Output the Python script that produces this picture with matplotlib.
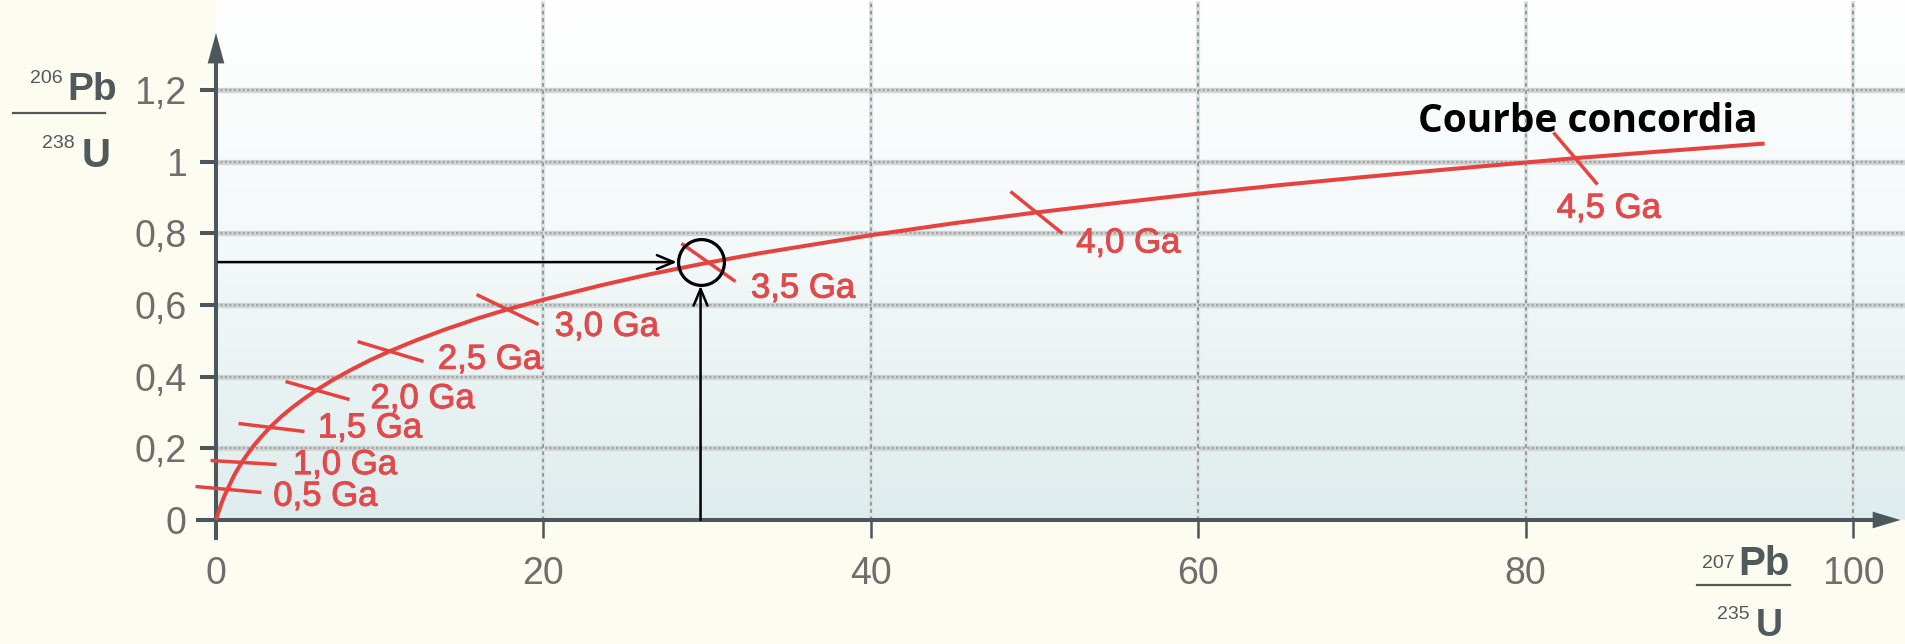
import matplotlib
matplotlib.use("Agg")
import matplotlib.pyplot as plt
import matplotlib.patheffects as pe
import numpy as np
from matplotlib.markers import MarkerStyle
from matplotlib.transforms import Affine2D
from matplotlib.lines import Line2D
from matplotlib.colors import LinearSegmentedColormap

plt.rcParams['font.family'] = ['Liberation Sans', 'DejaVu Sans']

# courbe concordia (207Pb/235U, 206Pb/238U)
courbe_x = [0, 0.15, 0.3, 0.5, 0.75, 1.1, 1.3, 1.65, 2.0, 2.4, 2.8, 3.35, 4.0, 4.6, 5.3,
            6.15, 7.1, 8.2, 9.4, 10.65, 12.3, 14, 16, 17.8, 20, 23.5, 26.5, 30, 33, 35,
            40, 45, 50, 55, 60, 65, 70, 75, 80, 83, 88, 90, 94.6]
courbe_y = [0, 0.022, 0.042, 0.066, 0.09, 0.124, 0.14, 0.166, 0.189, 0.213, 0.234, 0.261,
            0.289, 0.312, 0.336, 0.363, 0.39, 0.418, 0.446, 0.472, 0.503, 0.532, 0.563,
            0.588, 0.615, 0.655, 0.686, 0.718, 0.743, 0.758, 0.795, 0.828, 0.858, 0.885,
            0.911, 0.935, 0.957, 0.978, 0.998, 1.01, 1.028, 1.035, 1.051]

# graduations en age
ages = ['0,5 Ga', '1,0 Ga', '1,5 Ga', '2,0 Ga', '2,5 Ga', '3,0 Ga', '3,5 Ga', '4,0 Ga', '4,5 Ga']
age_x = [0.75, 1.64, 3.35, 6.2, 10.62, 17.76, 30.05, 50.1, 83.0]
age_y = [0.086, 0.163, 0.26, 0.364, 0.471, 0.588, 0.72, 0.86, 1.01]

# point lu
point_x = 29.6
point_y = 0.72

yticks = [0, 0.2, 0.4, 0.6, 0.8, 1.0, 1.2]
ylabels = ['0', '0,2', '0,4', '0,6', '0,8', '1', '1,2']
xticks = [0, 20, 40, 60, 80, 100]
xlabels = ['0', '20', '40', '60', '80', '100']

# mise en page (pixels)
angles = [-6, -4, -7, -16, -17, -26, -36, -39, -50]
longueurs = [66, 67, 67, 66, 68, 68, 66, 68, 68]
decalages = [(45, -7), (50, -3), (47, -1), (53, -9), (48, -8), (48, -17), (43, -26), (40, -31), (-18, -50)]

W, H = 1905, 644
rouge = '#e6423f'
rouge_txt = '#e04a4c'
gris_axe = '#4b585b'

fig = plt.figure(figsize=(W / 100, H / 100), dpi=100, facecolor='#fdfcf0')
ax = fig.add_axes([0, 0, 1, 1])
ax.set_xlim(-216 / 16.37, (W - 216) / 16.37)
ax.set_ylim(-124 / 358.2, (H - 124) / 358.2)
ax.patch.set_visible(False)

xmax = (W - 216) / 16.37
ytop = 1.45

# fond en degrade
cmap = LinearSegmentedColormap.from_list('fond', ['#dfeced', '#f3f8f8', '#ffffff'])
grad = np.linspace(0, 1, 256).reshape(-1, 1)
ax.imshow(grad, extent=(0, xmax, 0, ytop), origin='lower', aspect='auto', cmap=cmap, zorder=0)

# grille
ax.hlines(yticks[1:], 0, xmax, colors='#d0d5d4', lw=3.8, zorder=1)
ax.hlines(yticks[1:], 0, xmax, colors='#9ea5a5', lw=1.6, linestyles=(0, (1, 1)), zorder=1.1)
ax.vlines(xticks[1:], 0, ytop, colors='#dde2e2', lw=3, zorder=1)
ax.vlines(xticks[1:], 0, ytop, colors='#8a9494', lw=1.3, linestyles=(0, (2, 2)), zorder=1.1)

# axes
for s in ['top', 'right']:
    ax.spines[s].set_visible(False)
ax.spines['left'].set_position(('data', 0))
ax.spines['bottom'].set_position(('data', 0))
ax.spines['left'].set_bounds(-0.05, 1.3)
ax.spines['bottom'].set_bounds(-1.1, 101.5)
for s in ['left', 'bottom']:
    ax.spines[s].set_color(gris_axe)
    ax.spines[s].set_linewidth(2.9)
    ax.spines[s].set_zorder(3)

ax.set_yticks(yticks, ylabels)
ax.set_xticks(xticks, xlabels)
ax.tick_params(axis='y', direction='out', length=11.5, width=2.9, color=gris_axe,
               pad=9.5, labelsize=27, labelcolor='#6e6e6e')
ax.tick_params(axis='x', direction='out', length=13, width=1.8, color=gris_axe,
               pad=13, labelsize=27, labelcolor='#6e6e6e')

ax.annotate('', xy=(0, 1.36), xytext=(0, 1.28),
            arrowprops=dict(arrowstyle='-|>,head_length=2.2,head_width=0.6', mutation_scale=10,
                            lw=0, color=gris_axe, shrinkA=0, shrinkB=0), zorder=3)
ax.annotate('', xy=(102.9, 0), xytext=(101.0, 0),
            arrowprops=dict(arrowstyle='-|>,head_length=2.0,head_width=0.6', mutation_scale=10,
                            lw=0, color=gris_axe, shrinkA=0, shrinkB=0), zorder=3)

# courbe
ax.plot(courbe_x, courbe_y, color=rouge, lw=2.9, zorder=4, solid_capstyle='butt')

for i in range(len(ages)):
    m = MarkerStyle('_', transform=Affine2D().rotate_deg(angles[i]))
    ax.plot(age_x[i], age_y[i], marker=m, ms=longueurs[i] / 1.389, mew=2.5, color=rouge, zorder=4)
    t = ax.annotate(ages[i], xy=(age_x[i], age_y[i]), xytext=decalages[i], textcoords='offset pixels',
                    ha='left', va='center', fontsize=25, color=rouge_txt, zorder=5)
    t.set_path_effects([pe.withStroke(linewidth=0.7, foreground=rouge_txt)])

ax.text(73.4, 1.112, 'Courbe concordia', fontsize=28, fontweight='bold', color='black',
        family=['Open Sans', 'DejaVu Sans'], ha='left', va='center', zorder=6)

# lecture du point
ax.plot(point_x, point_y, 'o', ms=33, mfc='none', mec='black', mew=2.3, zorder=6)
ax.annotate('', xy=(point_x - 1.45, point_y), xytext=(0.15, point_y),
            arrowprops=dict(arrowstyle='->,head_length=1.2,head_width=0.5', mutation_scale=10,
                            lw=1.8, color='black', shrinkA=0, shrinkB=0), zorder=6)
ax.annotate('', xy=(point_x, point_y - 0.066), xytext=(point_x, 0),
            arrowprops=dict(arrowstyle='->,head_length=1.2,head_width=0.5', mutation_scale=10,
                            lw=1.8, color='black', shrinkA=0, shrinkB=0), zorder=6)


# titres des axes sous forme de fraction
def px(x, y):
    return x / W, 1 - y / H


c_lab = '#505a5c'
fig.text(*px(63, 83), '206', fontsize=14, color=c_lab, ha='right', va='baseline')
fig.text(*px(67, 100), 'Pb', fontsize=28, fontweight='bold', color=c_lab, ha='left', va='baseline')
fig.add_artist(Line2D([13 / W, 105 / W], [1 - 113 / H, 1 - 113 / H], color=c_lab, lw=1.6))
fig.text(*px(75, 148), '238', fontsize=14, color=c_lab, ha='right', va='baseline')
fig.text(*px(82, 167), 'U', fontsize=29, fontweight='bold', color=c_lab, ha='left', va='baseline')

fig.text(*px(1735, 568), '207', fontsize=14, color=c_lab, ha='right', va='baseline')
fig.text(*px(1738, 575), 'Pb', fontsize=29, fontweight='bold', color=c_lab, ha='left', va='baseline')
fig.add_artist(Line2D([1697 / W, 1790 / W], [1 - 585 / H, 1 - 585 / H], color=c_lab, lw=1.6))
fig.text(*px(1750, 619), '235', fontsize=14, color=c_lab, ha='right', va='baseline')
fig.text(*px(1756, 636), 'U', fontsize=27, fontweight='bold', color=c_lab, ha='left', va='baseline')

fig.savefig('out.png', dpi=100, facecolor=fig.get_facecolor())
